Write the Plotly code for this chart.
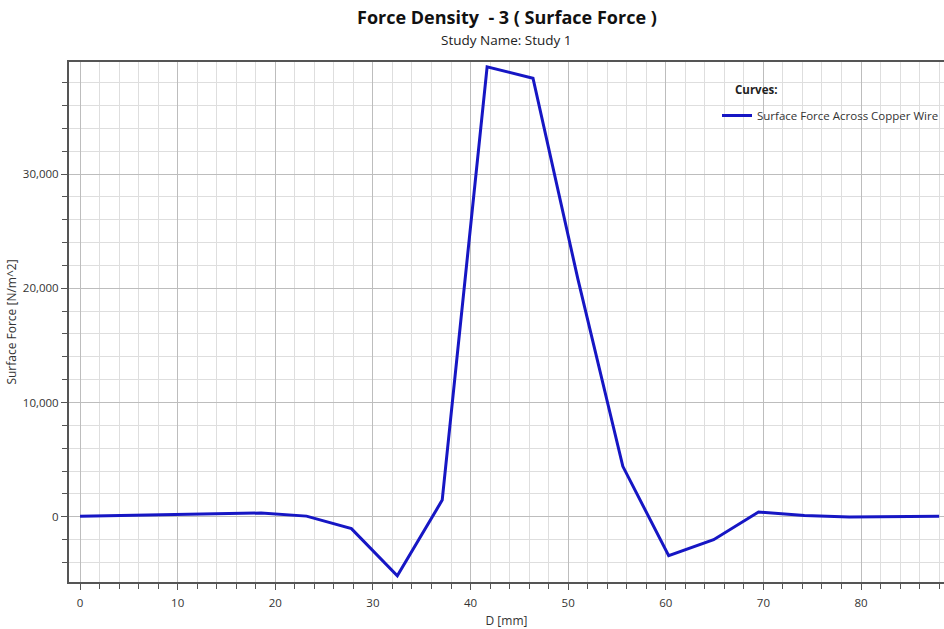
import plotly.graph_objects as go

# Data
d_mm = [0.0, 4.64, 9.28, 13.9, 18.55, 23.2, 27.8, 32.5, 37.1, 41.7,
        46.4, 51.0, 55.6, 60.3, 64.9, 69.5, 74.2, 78.8, 83.4, 88.0]
surface_force = [30, 90, 170, 260, 320, 50, -1050, -5180, 1450, 39400,
                 38400, 20800, 4410, -3420, -2020, 410, 100, -20, -10, 30]
series_name = "Surface Force Across Copper Wire"
legend_title = "Curves:"
title_text = "Force Density\u00a0\u00a0- 3 ( Surface Force )"
subtitle_text = "Study Name: Study 1"
x_title = "D [mm]"
y_title = "Surface Force [N/m^2]"

FONT = "Open Sans"
fig = go.Figure()
fig.add_trace(go.Scatter(
    x=d_mm, y=surface_force, mode="lines", name=series_name,
    line=dict(color="#1616c4", width=3),
))

major_grid = "#bdbdbd"
minor_grid = "#dedede"
H = 520.0
fig.update_layout(
    width=944, height=629,
    margin=dict(l=69, r=0, t=62, b=47, autoexpand=False),
    paper_bgcolor="white", plot_bgcolor="white",
    font=dict(family=FONT, size=11.5, color="#333333"),
    showlegend=True,
    legend=dict(
        x=(717 - 69) / 875.0, y=(582 - 101) / H, xanchor="left", yanchor="top",
        bgcolor="rgba(0,0,0,0)", borderwidth=0,
        font=dict(size=11.5, color="#333333"),
        itemwidth=30,
    ),
    xaxis=dict(
        range=[-1.13, 88.5],
        dtick=10, tick0=0,
        showgrid=True, gridcolor=major_grid, gridwidth=1,
        showline=True, linecolor="#555555", linewidth=2, mirror=True,
        ticks="outside", ticklen=6, tickcolor="#555555", tickwidth=1,
        ticklabelstandoff=3,
        zeroline=False,
        tickfont=dict(size=11.5, color="#333333"),
        title=dict(text=x_title, font=dict(size=12, color="#333333"), standoff=9),
        minor=dict(dtick=2, showgrid=True, gridcolor=minor_grid, gridwidth=1,
                   ticks="outside", ticklen=5, tickcolor="#555555"),
    ),
    yaxis=dict(
        range=[-5720, 39820],
        dtick=10000, tick0=0,
        tickformat=",d",
        showgrid=True, gridcolor=major_grid, gridwidth=1,
        showline=True, linecolor="#555555", linewidth=2, mirror=False,
        ticks="outside", ticklen=6, tickcolor="#555555", tickwidth=1,
        zeroline=False,
        tickfont=dict(size=11.5, color="#333333"),
        title=dict(text=y_title, font=dict(size=12, color="#333333"), standoff=4),
        minor=dict(dtick=2000, showgrid=True, gridcolor=minor_grid, gridwidth=1,
                   ticks="outside", ticklen=5, tickcolor="#555555"),
    ),
    annotations=[
        dict(text="<b>" + title_text + "</b>", xref="paper", yref="paper",
             x=0.5, y=(582 - 17) / H, xanchor="center", yanchor="middle",
             showarrow=False, font=dict(family=FONT, size=18, color="#111111")),
        dict(text=subtitle_text, xref="paper", yref="paper",
             x=0.5, y=(582 - 40) / H, xanchor="center", yanchor="middle",
             showarrow=False, font=dict(family=FONT, size=13.5, color="#222222")),
        dict(text="<b>" + legend_title + "</b>", xref="paper", yref="paper",
             x=(733 - 69) / 875.0, y=(582 - 89) / H, xanchor="left", yanchor="middle",
             showarrow=False, font=dict(family=FONT, size=11.5, color="#222222")),
    ],
)

fig.write_html("out.html")
